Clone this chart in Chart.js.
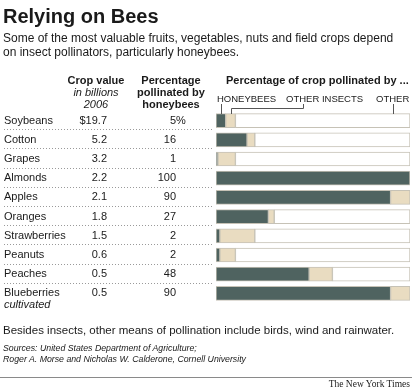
<!DOCTYPE html>
<html>
<head>
<meta charset="utf-8">
<script src="https://cdn.jsdelivr.net/npm/chart.js@4.4.1/dist/chart.umd.min.js"></script>
<style>
body{margin:0;background:#fff;font-family:"Liberation Sans",Arial,sans-serif;color:#1a1a1a}
#wrap{position:relative;width:412px;height:390px;overflow:hidden}
#wrap canvas{position:absolute;left:0;top:0}
.t{position:absolute;white-space:nowrap}
.b{font-weight:bold}
.i{font-style:italic}
</style>
</head>
<body>
<div id="wrap">
<canvas id="chart" width="412" height="390"></canvas>
<div class="t b" style="left:3px;top:4px;font-size:20px;line-height:24px">Relying on Bees</div>
<div class="t" style="left:3px;top:31px;font-size:12px;line-height:14px">Some of the most valuable fruits, vegetables, nuts and field crops depend<br>on insect pollinators, particularly honeybees.</div>

<div class="t" style="left:56px;width:80px;top:74px;font-size:11px;line-height:12px;text-align:center"><span class="b">Crop value</span><br><span class="i">in billions<br>2006</span></div>
<div class="t b" style="left:130px;width:82px;top:74px;font-size:11px;line-height:12px;text-align:center">Percentage<br>pollinated by<br>honeybees</div>
<div class="t b" style="left:226px;top:73px;font-size:11px;line-height:14px">Percentage of crop pollinated by ...</div>

<div class="t" style="left:217px;top:93px;font-size:9.5px;line-height:11px">HONEYBEES</div>
<div class="t" style="left:286px;top:93px;font-size:9.5px;line-height:11px">OTHER INSECTS</div>
<div class="t" style="left:376px;top:93px;font-size:9.5px;line-height:11px">OTHER</div>

<div class="t" style="left:3px;top:323px;font-size:11.5px;line-height:14px">Besides insects, other means of pollination include birds, wind and rainwater.</div>
<div class="t i" style="left:3px;top:343px;font-size:8.75px;line-height:11px">Sources: United States Department of Agriculture;<br>Roger A. Morse and Nicholas W. Calderone, Cornell University</div>
<div style="position:absolute;left:0;top:377px;width:412px;height:1px;background:#8a8a8a"></div>
<div class="t" style="right:2px;top:379px;font-size:9.5px;line-height:11px;font-family:'Liberation Serif',serif">The New York Times</div>
</div>

<script>
// data
var crops = ['Soybeans', 'Cotton', 'Grapes', 'Almonds', 'Apples', 'Oranges', 'Strawberries', 'Peanuts', 'Peaches', 'Blueberries'];
var cropValue = [19.7, 5.2, 3.2, 2.2, 2.1, 1.8, 1.5, 0.6, 0.5, 0.5];   // billions, 2006
var honeybees = [5, 16, 1, 100, 90, 27, 2, 2, 48, 90];
var otherInsects = [5, 4, 9, 0, 10, 3, 18, 8, 12, 10];
var other = [90, 80, 90, 0, 0, 70, 80, 90, 40, 0];

var dark = '#4f6360';
var tan = '#e9dcc1';
var edge = '#c6c2b6';
var font = '"Liberation Sans", Arial, sans-serif';

var tablePlugin = {
  id: 'table',
  afterDraw: function(chart){
    var ctx = chart.ctx;
    var ys = chart.scales.y;
    var xs = chart.scales.x;
    ctx.save();
    ctx.fillStyle = '#1a1a1a';
    ctx.textBaseline = 'middle';
    ctx.font = '11px ' + font;
    for(let i=0; i<crops.length; i++){
      var y = ys.getPixelForValue(i);
      ctx.textAlign = 'right';
      var v = cropValue[i].toFixed(1);
      if(i == 0) v = '$' + v;
      ctx.fillText(v, 107, y);
      ctx.fillText(String(honeybees[i]), 176, y);
      if(i == 0){
        ctx.textAlign = 'left';
        ctx.fillText('%', 176, y);
      }
    }
    // "cultivated" under blueberries
    ctx.textAlign = 'left';
    ctx.font = 'italic 11px ' + font;
    ctx.fillText('cultivated', 4, ys.getPixelForValue(crops.length-1) + 12);

    // dotted row separators
    ctx.fillStyle = '#9a9a9a';
    for(let i=0; i<crops.length-1; i++){
      var yy = Math.round((ys.getPixelForValue(i) + ys.getPixelForValue(i+1)) / 2) - 1;
      for(let x=4; x<213; x+=3) ctx.fillRect(x, yy, 1, 1);
    }

    // leader lines from the legend labels to the first bar
    var top = Math.round(ys.getPixelForValue(0) - 7);
    ctx.strokeStyle = '#555';
    ctx.lineWidth = 1;
    var xh = Math.round(xs.getPixelForValue(honeybees[0] / 2)) + 0.5;
    var xo = Math.round(xs.getPixelForValue(honeybees[0] + otherInsects[0] / 2)) + 0.5;
    var xr = Math.round(xs.getPixelForValue(91)) + 0.5;
    ctx.beginPath();
    ctx.moveTo(xh, 104); ctx.lineTo(xh, top);
    ctx.moveTo(303.5, 104); ctx.lineTo(303.5, 108.5); ctx.lineTo(xo, 108.5); ctx.lineTo(xo, top);
    ctx.moveTo(xr, 104); ctx.lineTo(xr, top);
    ctx.stroke();
    ctx.restore();
  }
};

var ctx = document.getElementById('chart').getContext('2d');
var myChart = new Chart(ctx, {
  type: 'bar',
  data: {
    labels: crops,
    datasets: [{
      label: 'Honeybees',
      data: honeybees,
      backgroundColor: dark,
      borderColor: edge,
      borderWidth: 1,
      borderSkipped: false,
      barThickness: 14
    },{
      label: 'Other insects',
      data: otherInsects,
      backgroundColor: tan,
      borderColor: edge,
      borderWidth: 1,
      borderSkipped: false,
      barThickness: 14
    },{
      label: 'Other',
      data: other,
      backgroundColor: '#ffffff',
      borderColor: edge,
      borderWidth: 1,
      borderSkipped: false,
      barThickness: 14
    }]
  },
  options: {
    indexAxis: 'y',
    responsive: false,
    animation: false,
    layout: { padding: { left: 4, right: 2, top: 111, bottom: 87 } },
    plugins: { legend: { display: false }, tooltip: { enabled: false } },
    scales: {
      x: { stacked: true, min: 0, max: 100, display: false },
      y: {
        stacked: true,
        grid: { display: false },
        border: { display: false },
        ticks: {
          crossAlign: 'far',
          color: '#1a1a1a',
          font: { family: font, size: 11 }
        },
        afterFit: function(scale){ scale.width = 212; }
      }
    }
  },
  plugins: [tablePlugin]
});
</script>
</body>
</html>
